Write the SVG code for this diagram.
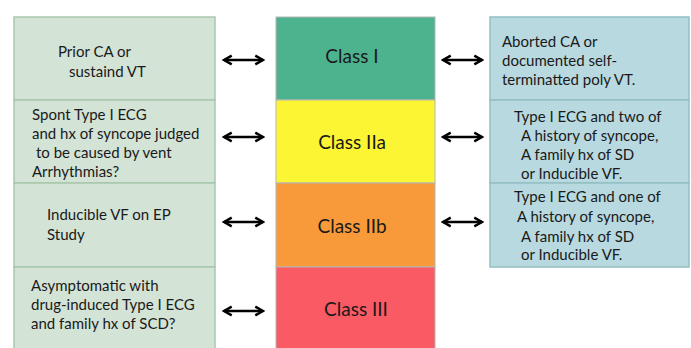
<svg xmlns="http://www.w3.org/2000/svg" width="691" height="348" viewBox="0 0 691 348">
<style>
  .lbox{fill:#d3e3d6;stroke:#a8c8ad;stroke-width:1.5}
  .rbox{fill:#b8d9df;stroke:#93c0c2;stroke-width:1.5}
  .t{font-family:Lato,"Liberation Sans",sans-serif;font-size:15px;fill:#1a1a1a}
  .c{font-family:Lato,"Liberation Sans",sans-serif;font-size:19px;fill:#1a1a1a;text-anchor:middle}
  .cls{stroke:#b5b5b5;stroke-width:1}
  .arr{stroke:#000;stroke-width:2.4;fill:none;marker-start:url(#ah);marker-end:url(#ah)}
</style>
<defs>
  <marker id="ah" viewBox="0 0 10 10" refX="8.5" refY="5" markerWidth="4.6" markerHeight="4.6" orient="auto-start-reverse" markerUnits="strokeWidth">
    <path d="M1.5,1 L8.5,5 L1.5,9" fill="none" stroke="#000" stroke-width="2.2" stroke-linejoin="miter"/>
  </marker>
</defs>
<rect width="691" height="348" fill="#fff"/>
<g id="left1"><rect class="lbox" x="14" y="17" width="201" height="83"/>
  <text class="t"><tspan x="58" y="57">Prior CA or</tspan><tspan x="69" y="77">sustaind VT</tspan></text></g>
<g id="left2"><rect class="lbox" x="14" y="100" width="201" height="83"/>
  <text class="t"><tspan x="32" y="120">Spont Type I ECG</tspan><tspan x="32" y="139">and hx of syncope judged</tspan><tspan x="36" y="158">to be caused by vent</tspan><tspan x="32" y="177">Arrhythmias?</tspan></text></g>
<g id="left3"><rect class="lbox" x="14" y="183" width="201" height="84"/>
  <text class="t"><tspan x="47" y="220">Inducible VF on EP</tspan><tspan x="47" y="240">Study</tspan></text></g>
<g id="left4"><rect class="lbox" x="14" y="267" width="201" height="90"/>
  <text class="t"><tspan x="31" y="291">Asymptomatic with</tspan><tspan x="31" y="310">drug-induced Type I ECG</tspan><tspan x="31" y="329">and family hx of SCD?</tspan></text></g>

<g id="class1"><rect class="cls" x="276" y="17" width="159" height="83" fill="#4cb38e"/><text class="c" x="352" y="63">Class I</text></g>
<g id="class2a"><rect class="cls" x="276" y="100" width="159" height="83" fill="#fcf534"/><text class="c" x="352" y="149">Class IIa</text></g>
<g id="class2b"><rect class="cls" x="276" y="183" width="159" height="84" fill="#f99a3a"/><text class="c" x="352" y="233">Class IIb</text></g>
<g id="class3"><rect class="cls" x="276" y="267" width="159" height="90" fill="#f95a64"/><text class="c" x="356" y="316">Class III</text></g>

<g id="right1"><rect class="rbox" x="490" y="17" width="199" height="83"/>
  <text class="t"><tspan x="502" y="47">Aborted CA or</tspan><tspan x="502" y="66">documented self-</tspan><tspan x="502" y="85">terminatted poly VT.</tspan></text></g>
<g id="right2"><rect class="rbox" x="490" y="100" width="199" height="83"/>
  <text class="t"><tspan x="514" y="122">Type I ECG and two of</tspan><tspan x="521" y="141">A history of syncope,</tspan><tspan x="521" y="160">A family hx of SD</tspan><tspan x="521" y="179">or Inducible VF.</tspan></text></g>
<g id="right3"><rect class="rbox" x="490" y="183" width="199" height="84"/>
  <text class="t"><tspan x="514" y="202">Type I ECG and one of</tspan><tspan x="517" y="222">A history of syncope,</tspan><tspan x="521" y="242">A family hx of SD</tspan><tspan x="521" y="260">or Inducible VF.</tspan></text></g>

<g id="connectors">
  <line class="arr" x1="224" y1="60" x2="263" y2="60"/>
  <line class="arr" x1="224" y1="137" x2="263" y2="137"/>
  <line class="arr" x1="224" y1="222" x2="263" y2="222"/>
  <line class="arr" x1="224" y1="311" x2="263" y2="311"/>
  <line class="arr" x1="443" y1="60" x2="482" y2="60"/>
  <line class="arr" x1="443" y1="137" x2="482" y2="137"/>
  <line class="arr" x1="443" y1="222" x2="482" y2="222"/>
</g>
</svg>
